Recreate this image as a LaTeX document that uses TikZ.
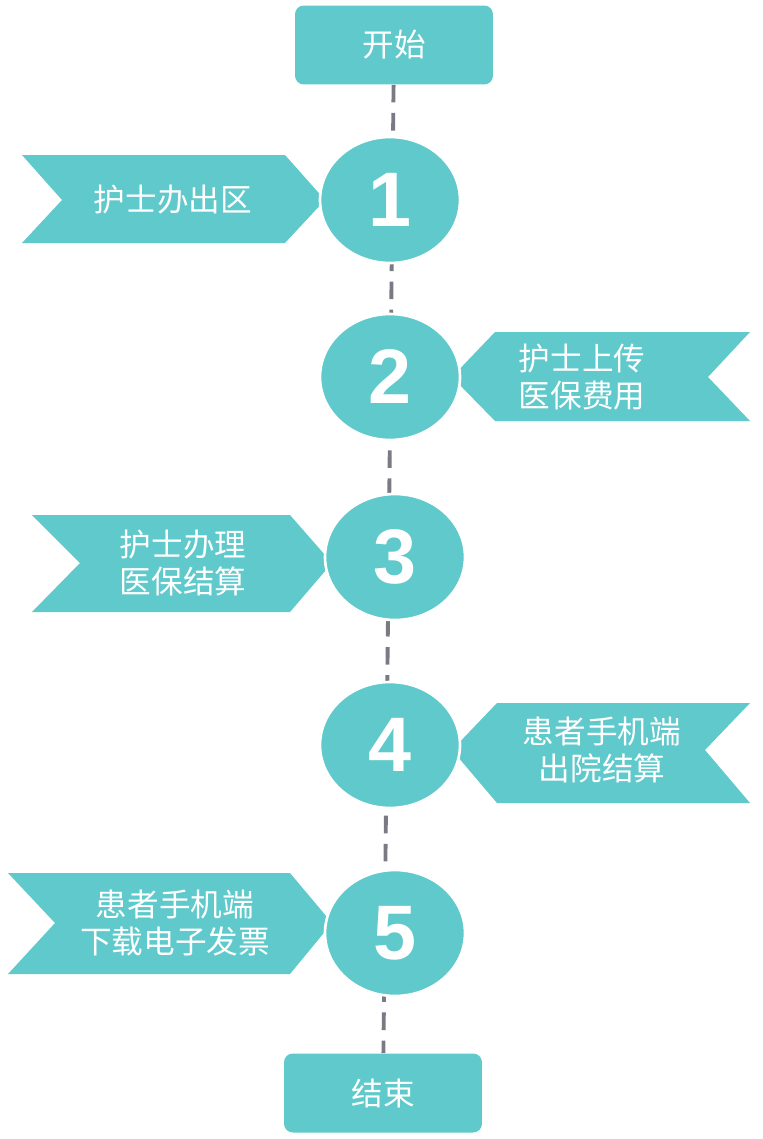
\documentclass[tikz,border=0pt]{standalone}
\usepackage{fontspec}
\setmainfont{Liberation Sans}
\newfontfamily\cjk{Noto Sans CJK SC}
\usetikzlibrary{shapes.geometric,backgrounds}
\definecolor{teal1}{HTML}{5FC9CB}
\definecolor{dashgray}{HTML}{7A7A84}

\begin{document}
\begin{tikzpicture}[x=0.02cm, y=-0.02cm]
            % Estilos
            \tikzset{
              endbox/.style={rectangle, rounded corners=5pt, fill=teal1, minimum width=3.96cm, minimum height=1.58cm, text=white, font=\cjk\fontsize{18}{22}\selectfont},
              stepnum/.style={ellipse, fill=teal1, draw=white, line width=1.5pt, minimum width=2.8cm, minimum height=2.52cm, text=white, font=\bfseries\fontsize{44}{48}\selectfont},
              tag/.style={fill=teal1},
              tagtext/.style={text=white, align=center, font=\cjk\fontsize{18}{21}\selectfont}
            }
            \useasboundingbox (0,0) rectangle (763,1139);

            % Nós
            \node[endbox] (start) at (394,45) {开始};
            \node[endbox] (end) at (383,1093) {结束};
            \node[stepnum] (c1) at (390,200) {1};
            \node[stepnum] (c2) at (390,377) {2};
            \node[stepnum] (c3) at (395,557) {3};
            \node[stepnum] (c4) at (390,745) {4};
            \node[stepnum] (c5) at (395,933) {5};

            \begin{pgfonlayer}{background}
            % Linha tracejada
            \draw[dashgray, line width=2.2pt, dash pattern=on 10pt off 6pt] (start) -- (end);
            % Setas
            \fill[tag] (22,155) -- (285,155) -- (325,200) -- (285,243) -- (22,243) -- (62,200) -- cycle;
            \fill[tag] (750,332) -- (495,332) -- (452,377) -- (495,421) -- (750,421) -- (708,377) -- cycle;
            \fill[tag] (32,515) -- (290,515) -- (332,563) -- (290,612) -- (32,612) -- (80,563) -- cycle;
            \fill[tag] (750,703) -- (497,703) -- (452,750) -- (497,803) -- (750,803) -- (705,750) -- cycle;
            \fill[tag] (8,873) -- (290,873) -- (332,923) -- (290,974) -- (8,974) -- (55,923) -- cycle;
            \end{pgfonlayer}

            % Textos
            \node[tagtext] (t1) at (173,200) {护士办出区};
            \node[tagtext] (t2) at (582,377) {护士上传\\医保费用};
            \node[tagtext] (t3) at (183,563) {护士办理\\医保结算};
            \node[tagtext] (t4) at (602,750) {患者手机端\\出院结算};
            \node[tagtext] (t5) at (175,923) {患者手机端\\下载电子发票};
\end{tikzpicture}
\end{document}
